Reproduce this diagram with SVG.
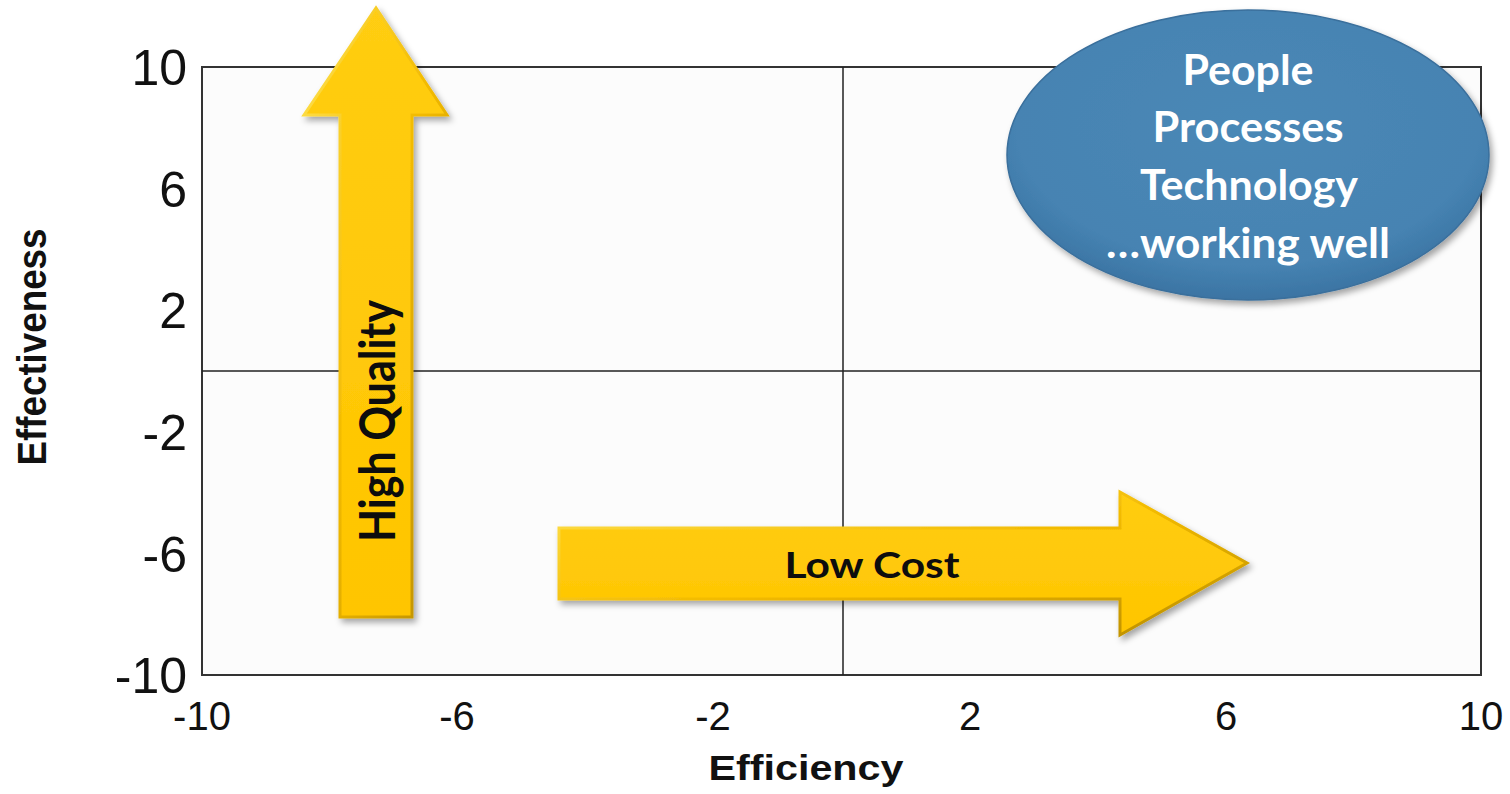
<svg xmlns="http://www.w3.org/2000/svg" width="1510" height="794" viewBox="0 0 1510 794">
  <style>
    .ylab { font-family: "Liberation Sans", Arial, sans-serif; font-size: 50px; fill: #111; text-anchor: end; }
    .xlab { font-family: "Liberation Sans", Arial, sans-serif; font-size: 40px; fill: #111; text-anchor: middle; }
    .axt { font-family: "Liberation Sans", Arial, sans-serif; font-weight: bold; fill: #111; text-anchor: middle; }
    .arrowtxt { font-family: Lato, "Open Sans", sans-serif; font-weight: bold; fill: #0d0d0d; text-anchor: middle; }
    .elltxt { font-family: Lato, "Open Sans", sans-serif; font-weight: bold; fill: #ffffff; text-anchor: middle; font-size: 42px; }
    .arrow { fill: url(#gold); stroke: url(#bevel); stroke-width: 3; stroke-linejoin: miter; filter: url(#shadow); }
  </style>
  <defs>
    <linearGradient id="gold" x1="0" y1="0" x2="0" y2="1">
      <stop offset="0" stop-color="#FFCD12"/>
      <stop offset="1" stop-color="#FFC500"/>
    </linearGradient>
    <linearGradient id="bevel" x1="0" y1="0" x2="1" y2="1">
      <stop offset="0" stop-color="#FFE250"/>
      <stop offset="0.5" stop-color="#F2BA00"/>
      <stop offset="1" stop-color="#B88C00"/>
    </linearGradient>
    <radialGradient id="blue" cx="0.5" cy="0.4" r="0.6">
      <stop offset="0" stop-color="#4A88B6"/>
      <stop offset="0.8" stop-color="#4683B2"/>
      <stop offset="1" stop-color="#3B74A3"/>
    </radialGradient>
    <filter id="shadow" x="-20%" y="-20%" width="140%" height="140%">
      <feDropShadow dx="3" dy="4" stdDeviation="3" flood-color="#000" flood-opacity="0.35"/>
    </filter>
  </defs>

  <rect width="1510" height="794" fill="#ffffff"/>

  <g id="plot">
    <rect x="202" y="67" width="1279" height="608" fill="#fcfcfc" stroke="#333" stroke-width="2"/>
    <line x1="843" y1="67" x2="843" y2="675" stroke="#222" stroke-width="1.5"/>
    <line x1="202" y1="371" x2="1481" y2="371" stroke="#222" stroke-width="1.5"/>
  </g>

  <g id="y-axis">
    <text class="ylab" x="187" y="85">10</text>
    <text class="ylab" x="187" y="207">6</text>
    <text class="ylab" x="187" y="328">2</text>
    <text class="ylab" x="187" y="450">-2</text>
    <text class="ylab" x="187" y="572">-6</text>
    <text class="ylab" x="187" y="693">-10</text>
    <text class="axt" font-size="40" transform="translate(46,347) rotate(-90)" textLength="237" lengthAdjust="spacingAndGlyphs">Effectiveness</text>
  </g>

  <g id="x-axis">
    <text class="xlab" x="202" y="730">-10</text>
    <text class="xlab" x="457" y="730">-6</text>
    <text class="xlab" x="713" y="730">-2</text>
    <text class="xlab" x="970" y="730">2</text>
    <text class="xlab" x="1226" y="730">6</text>
    <text class="xlab" x="1481" y="730">10</text>
    <text class="axt" font-size="35" x="806" y="780" textLength="195" lengthAdjust="spacingAndGlyphs">Efficiency</text>
  </g>

  <g id="connectors">
    <g id="high-quality-arrow">
      <polygon class="arrow" points="340,617 340,115 304,115 376,8 447,115 412,115 412,617"/>
      <text class="arrowtxt" font-size="50" transform="translate(395,421) rotate(-90)" textLength="242" lengthAdjust="spacingAndGlyphs">High Quality</text>
    </g>
    <g id="low-cost-arrow">
      <polygon class="arrow" points="559,528 1120,528 1120,492 1247,563 1120,635 1120,599 559,599"/>
      <text class="arrowtxt" font-size="37" x="872" y="578" textLength="175" lengthAdjust="spacingAndGlyphs">Low Cost</text>
    </g>
  </g>

  <g id="ellipse-node">
    <ellipse cx="1248" cy="155" rx="241" ry="145" fill="url(#blue)" stroke="#3A6F9C" stroke-width="1.5" filter="url(#shadow)"/>
    <text class="elltxt" x="1248" y="85" textLength="131" lengthAdjust="spacingAndGlyphs">People</text>
    <text class="elltxt" x="1248" y="142" textLength="191" lengthAdjust="spacingAndGlyphs">Processes</text>
    <text class="elltxt" x="1249" y="200" textLength="218" lengthAdjust="spacingAndGlyphs">Technology</text>
    <text class="elltxt" x="1248" y="258" textLength="284" lengthAdjust="spacingAndGlyphs">…working well</text>
  </g>
</svg>
